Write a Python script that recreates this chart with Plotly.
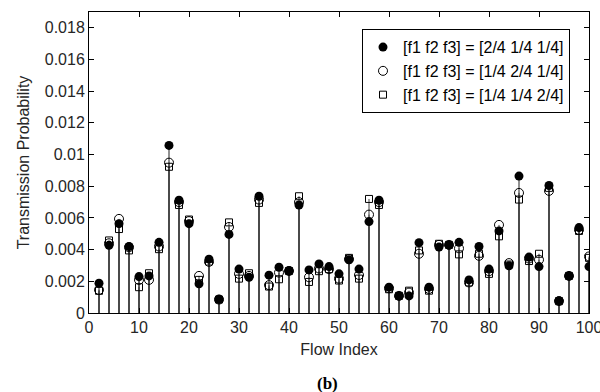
import plotly.graph_objects as go

flow = list(range(2, 101, 2))
series_a = [1.88, 4.27, 5.64, 4.20, 2.30, 2.34, 4.46, 10.58, 7.12, 5.64,
            1.84, 3.40, 0.87, 4.96, 2.77, 2.26, 7.37, 2.39, 2.89, 2.68,
            6.82, 2.72, 3.10, 2.93, 2.47, 3.36, 2.77, 5.77, 7.12, 1.63,
            1.08, 1.08, 4.44, 1.63, 4.16, 4.29, 4.46, 2.09, 4.20, 2.77,
            5.18, 2.98, 8.64, 3.53, 2.93, 8.05, 0.78, 2.34, 5.39, 2.93]
series_b = [1.46, 4.40, 5.94, 4.15, 2.09, 2.09, 4.20, 9.49, 7.00, 5.80,
            2.34, 3.23, 0.85, 5.43, 2.47, 2.34, 7.16, 1.76, 2.55, 2.65,
            7.00, 2.26, 2.81, 2.77, 2.17, 3.40, 2.40, 6.21, 7.00, 1.56,
            1.08, 1.29, 3.74, 1.52, 4.30, 4.30, 4.08, 1.93, 3.61, 2.64,
            5.56, 3.15, 7.58, 3.44, 3.36, 7.71, 0.75, 2.34, 5.25, 3.57]
series_c = [1.40, 4.58, 5.30, 3.95, 1.63, 2.51, 4.03, 9.23, 6.82, 5.90,
            2.09, 3.25, 0.85, 5.72, 2.17, 2.51, 6.95, 1.67, 2.13, 2.65,
            7.37, 1.96, 2.64, 2.77, 2.05, 3.48, 2.17, 7.20, 6.82, 1.50,
            1.08, 1.41, 3.95, 1.41, 4.37, 4.30, 3.70, 1.93, 3.74, 2.47,
            4.84, 3.06, 7.16, 3.28, 3.74, 7.90, 0.75, 2.34, 5.18, 3.48]
names = ["[f1 f2 f3] = [2/4 1/4 1/4]",
         "[f1 f2 f3] = [1/4 2/4 1/4]",
         "[f1 f2 f3] = [1/4 1/4 2/4]"]
y_ticks = [0, 0.002, 0.004, 0.006, 0.008, 0.01, 0.012, 0.014, 0.016, 0.018]
y_tick_text = ["0", "0.002", "0.004", "0.006", "0.008", "0.01", "0.012", "0.014", "0.016", "0.018"]
x_ticks = [0, 10, 20, 30, 40, 50, 60, 70, 80, 90, 100]

scale = 1e-3
va = [v * scale for v in series_a]
vb = [v * scale for v in series_b]
vc = [v * scale for v in series_c]

fig = go.Figure()

def stems(values, color):
    xs, ys = [], []
    for x, v in zip(flow, values):
        xs += [x, x, None]
        ys += [0, v, None]
    return go.Scatter(x=xs, y=ys, mode="lines", line=dict(color=color, width=1),
                      showlegend=False, hoverinfo="skip")

fig.add_trace(stems(vb, "#444444"))
fig.add_trace(stems(vc, "#444444"))
fig.add_trace(stems(va, "#222222"))

fig.add_trace(go.Scatter(x=flow, y=vb, mode="markers", name=names[1], legendrank=2,
                         marker=dict(symbol="circle-open", size=9, color="black",
                                     line=dict(width=1, color="black"))))
fig.add_trace(go.Scatter(x=flow, y=vc, mode="markers", name=names[2], legendrank=3,
                         marker=dict(symbol="square-open", size=7, color="black",
                                     line=dict(width=1, color="black"))))
fig.add_trace(go.Scatter(x=flow, y=va, mode="markers", name=names[0], legendrank=1,
                         marker=dict(symbol="circle", size=9, color="black")))

axis_common = dict(showline=True, linecolor="black", linewidth=1, mirror="ticks",
                   ticks="inside", ticklen=5, tickcolor="black", showgrid=False,
                   zeroline=False, tickfont=dict(size=16, color="#262626"),
                   ticklabeloverflow="allow", automargin=False)

fig.update_xaxes(range=[0, 100], tickvals=x_ticks,
                 title=dict(text="Flow Index", font=dict(size=16, color="#262626"), standoff=8),
                 **axis_common)
fig.update_yaxes(range=[0, 0.019], tickvals=y_ticks, ticktext=y_tick_text,
                 title=dict(text="Transmission Probability", font=dict(size=16, color="#262626"), standoff=11),
                 **axis_common)

fig.add_annotation(text="<b>(b)</b>", x=0.476, xref="paper", y=-0.233, yref="paper",
                   showarrow=False, yanchor="middle",
                   font=dict(family="Liberation Serif", size=17, color="black"))

fig.update_layout(
    width=600, height=392,
    margin=dict(l=89, r=11, t=12, b=79),
    paper_bgcolor="white", plot_bgcolor="white",
    font=dict(family="Liberation Sans, Arial", size=16, color="#262626"),
    legend=dict(x=0.962, xanchor="right", y=0.943, yanchor="top",
                bordercolor="black", borderwidth=1, bgcolor="white",
                font=dict(size=16, color="black"), tracegroupgap=0,
                itemwidth=30),
)

fig.write_html("out.html")
